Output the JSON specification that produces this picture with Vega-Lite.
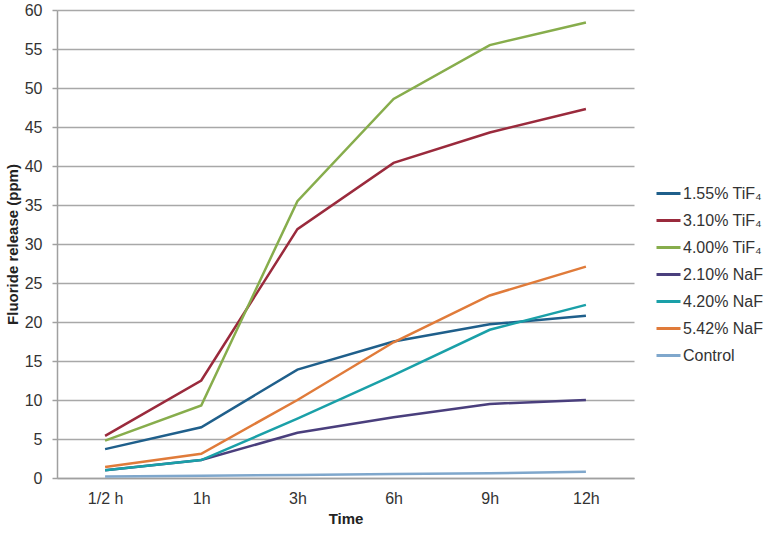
{
  "$schema": "https://vega.github.io/schema/vega-lite/v6.json",
  "width": 577,
  "height": 468,
  "autosize": {"type": "none"},
  "padding": {"left": 57, "top": 10, "right": 137, "bottom": 55},
  "background": "white",
  "config": {
    "font": "Liberation Sans",
    "view": {"stroke": null}
  },
  "data": {
    "values": [
      {"time": "1/2 h", "series": "1.55% TiF₄", "value": 3.7},
      {"time": "1h", "series": "1.55% TiF₄", "value": 6.5},
      {"time": "3h", "series": "1.55% TiF₄", "value": 13.9},
      {"time": "6h", "series": "1.55% TiF₄", "value": 17.5},
      {"time": "9h", "series": "1.55% TiF₄", "value": 19.7},
      {"time": "12h", "series": "1.55% TiF₄", "value": 20.8},
      {"time": "1/2 h", "series": "3.10% TiF₄", "value": 5.4},
      {"time": "1h", "series": "3.10% TiF₄", "value": 12.5},
      {"time": "3h", "series": "3.10% TiF₄", "value": 31.9},
      {"time": "6h", "series": "3.10% TiF₄", "value": 40.4},
      {"time": "9h", "series": "3.10% TiF₄", "value": 44.3},
      {"time": "12h", "series": "3.10% TiF₄", "value": 47.3},
      {"time": "1/2 h", "series": "4.00% TiF₄", "value": 4.8},
      {"time": "1h", "series": "4.00% TiF₄", "value": 9.3},
      {"time": "3h", "series": "4.00% TiF₄", "value": 35.5},
      {"time": "6h", "series": "4.00% TiF₄", "value": 48.6},
      {"time": "9h", "series": "4.00% TiF₄", "value": 55.5},
      {"time": "12h", "series": "4.00% TiF₄", "value": 58.4},
      {"time": "1/2 h", "series": "2.10% NaF", "value": 1.0},
      {"time": "1h", "series": "2.10% NaF", "value": 2.3},
      {"time": "3h", "series": "2.10% NaF", "value": 5.8},
      {"time": "6h", "series": "2.10% NaF", "value": 7.8},
      {"time": "9h", "series": "2.10% NaF", "value": 9.5},
      {"time": "12h", "series": "2.10% NaF", "value": 10.0},
      {"time": "1/2 h", "series": "4.20% NaF", "value": 1.0},
      {"time": "1h", "series": "4.20% NaF", "value": 2.3},
      {"time": "3h", "series": "4.20% NaF", "value": 7.6},
      {"time": "6h", "series": "4.20% NaF", "value": 13.2},
      {"time": "9h", "series": "4.20% NaF", "value": 19.0},
      {"time": "12h", "series": "4.20% NaF", "value": 22.2},
      {"time": "1/2 h", "series": "5.42% NaF", "value": 1.4},
      {"time": "1h", "series": "5.42% NaF", "value": 3.1},
      {"time": "3h", "series": "5.42% NaF", "value": 10.0},
      {"time": "6h", "series": "5.42% NaF", "value": 17.4},
      {"time": "9h", "series": "5.42% NaF", "value": 23.4},
      {"time": "12h", "series": "5.42% NaF", "value": 27.1},
      {"time": "1/2 h", "series": "Control", "value": 0.2},
      {"time": "1h", "series": "Control", "value": 0.3},
      {"time": "3h", "series": "Control", "value": 0.4},
      {"time": "6h", "series": "Control", "value": 0.5},
      {"time": "9h", "series": "Control", "value": 0.6},
      {"time": "12h", "series": "Control", "value": 0.8}
    ]
  },
  "mark": {"type": "line", "strokeWidth": 2.5, "strokeJoin": "miter"},
  "encoding": {
    "x": {
      "field": "time",
      "type": "ordinal",
      "sort": ["1/2 h", "1h", "3h", "6h", "9h", "12h"],
      "scale": {"type": "point", "padding": 0.5},
      "axis": {
        "title": "Time",
        "titleFontSize": 15,
        "titleFontWeight": "bold",
        "titleColor": "#222",
        "titlePadding": 5,
        "labelFontSize": 16,
        "labelColor": "#333",
        "labelAngle": 0,
        "labelPadding": 12,
        "ticks": false,
        "domainColor": "#a0a0a0",
        "domainWidth": 1.5,
        "grid": false
      }
    },
    "y": {
      "field": "value",
      "type": "quantitative",
      "scale": {"domain": [0, 60], "nice": false},
      "axis": {
        "title": "Fluoride release (ppm)",
        "titleFontSize": 15,
        "titleFontWeight": "bold",
        "titleColor": "#222",
        "titlePadding": 4,
        "values": [0, 5, 10, 15, 20, 25, 30, 35, 40, 45, 50, 55, 60],
        "labelFontSize": 16,
        "labelColor": "#333",
        "labelPadding": 10,
        "tickSize": 5,
        "tickColor": "#a0a0a0",
        "tickWidth": 1.5,
        "domainColor": "#a0a0a0",
        "domainWidth": 1.5,
        "grid": true,
        "gridColor": "#a8a8a8",
        "gridWidth": 1.5
      }
    },
    "color": {
      "field": "series",
      "type": "nominal",
      "sort": ["1.55% TiF₄", "3.10% TiF₄", "4.00% TiF₄", "2.10% NaF", "4.20% NaF", "5.42% NaF", "Control"],
      "scale": {
        "domain": ["1.55% TiF₄", "3.10% TiF₄", "4.00% TiF₄", "2.10% NaF", "4.20% NaF", "5.42% NaF", "Control"],
        "range": ["#1f5f8b", "#9a2a3c", "#87ad4c", "#4a3f7d", "#1aa0a8", "#e07b3a", "#7fa7cc"]
      },
      "legend": {
        "title": null,
        "orient": "none",
        "legendX": 598,
        "legendY": 170,
        "padding": 0,
        "symbolType": "stroke",
        "symbolSize": 576,
        "symbolStrokeWidth": 3,
        "labelFontSize": 16,
        "labelColor": "#333",
        "labelOffset": 1,
        "rowPadding": 5
      }
    }
  }
}
